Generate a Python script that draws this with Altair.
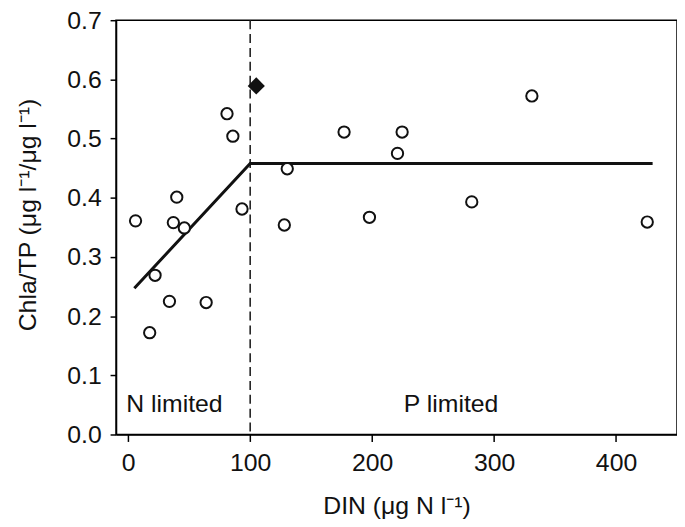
import altair as alt
import pandas as pd

# Observed points (open circles)
din = [6, 17.6, 22, 33.8, 37, 39.8, 46, 63.9, 81, 85.8, 93.3, 128, 130.4,
       177, 197.8, 220.8, 224.6, 281.7, 331, 425.6]
ratio = [0.361, 0.172, 0.269, 0.225, 0.358, 0.401, 0.349, 0.223, 0.542, 0.504,
         0.381, 0.354, 0.449, 0.511, 0.367, 0.475, 0.511, 0.393, 0.572, 0.359]

# Highlighted point (filled diamond)
din_hl = [105]
ratio_hl = [0.589]

# Breakpoint regression
fit_x = [5, 100, 430]
fit_y = [0.247, 0.458, 0.458]

# Threshold
threshold = [100]

# Region labels
label_text = ["N limited", "P limited"]
label_x = [-1.6, 226]
label_y = [0.038, 0.038]

FONT = "Liberation Sans"
FS = 25

pts = pd.DataFrame({"x": din, "y": ratio})
hl = pd.DataFrame({"x": din_hl, "y": ratio_hl})
fit = pd.DataFrame({"x": fit_x, "y": fit_y})
thr = pd.DataFrame({"x": threshold})
labs = pd.DataFrame({"t": label_text, "x": label_x, "y": label_y})

xscale = alt.Scale(domain=[-10, 450], nice=False, zero=False)
yscale = alt.Scale(domain=[0, 0.7], nice=False)

xaxis = alt.Axis(values=[0, 100, 200, 300, 400], title="DIN (μg N l⁻¹)",
                 grid=False, tickSize=7, labelPadding=9, titlePadding=19,
                 labelFontSize=FS, titleFontSize=FS, titleFontWeight="normal",
                 labelFont=FONT, titleFont=FONT, domainColor="black",
                 tickColor="black", labelColor="#111", titleColor="#111",
                 domainWidth=1.5, tickWidth=1.5)
yaxis = alt.Axis(values=[0, 0.1, 0.2, 0.3, 0.4, 0.5, 0.6, 0.7], format=".1f",
                 title="Chla/TP (μg l⁻¹/μg l⁻¹)",
                 grid=False, tickSize=6, labelPadding=9, titlePadding=26,
                 titleY=196,
                 labelFontSize=FS, titleFontSize=FS, titleFontWeight="normal",
                 labelFont=FONT, titleFont=FONT, domainColor="black",
                 tickColor="black", labelColor="#111", titleColor="#111",
                 domainWidth=1.5, tickWidth=1.5)

X = alt.X("x:Q", scale=xscale, axis=xaxis)
Y = alt.Y("y:Q", scale=yscale, axis=yaxis)

rule = alt.Chart(thr).mark_rule(color="#222", strokeWidth=1.6,
                                strokeDash=[9, 5]).encode(x=alt.X("x:Q", scale=xscale))

line = alt.Chart(fit).mark_line(color="#111", strokeWidth=3).encode(x=X, y=Y)

circles = alt.Chart(pts).mark_point(shape="circle", filled=False, fill="white",
                                    fillOpacity=1, stroke="#111", strokeWidth=2,
                                    size=130, opacity=1).encode(x=X, y=Y)

diamond = alt.Chart(hl).mark_point(shape="diamond", filled=True, color="#111",
                                   size=300, opacity=1).encode(x=X, y=Y)

text = alt.Chart(labs).mark_text(align="left", baseline="alphabetic",
                                 fontSize=FS, font=FONT, color="#111").encode(
    x=alt.X("x:Q", scale=xscale), y=alt.Y("y:Q", scale=yscale), text="t:N")

chart = alt.layer(rule, line, circles, diamond, text).properties(
    width=566, height=418,
    autosize=alt.AutoSizeParams(type="none"),
    padding={"left": 109, "top": 10, "right": 0, "bottom": 90},
).configure_view(stroke="black", strokeWidth=1.5)

chart.save("out.html", embed_options={"renderer": "svg", "actions": False})
